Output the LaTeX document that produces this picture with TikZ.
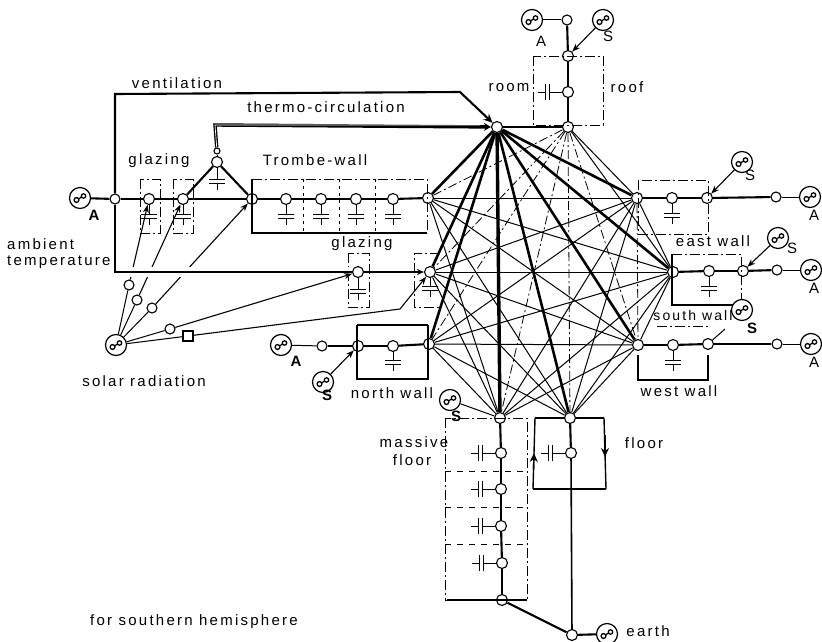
\documentclass[tikz,border=0pt]{standalone}
\usepackage{fontspec}
\setmainfont[LetterSpace=15]{Liberation Sans}
\usetikzlibrary{arrows.meta,calc}
\tikzset{
  x=1pt,y=-1pt,
  nd/.style={circle,draw,fill=white,line width=1.1pt,minimum size=11pt,inner sep=0pt},
  sm/.style={circle,draw,fill=white,line width=1.1pt,minimum size=10pt,inner sep=0pt},
  src/.style={circle,draw,fill=white,line width=1.2pt,minimum size=21pt,inner sep=0pt,
    path picture={\draw[line width=1.3pt]
      ([shift={(-3.5,2)}]path picture bounding box.center) circle[radius=2.4pt]
      ([shift={(-1.5,0.8)}]path picture bounding box.center) -- ([shift={(1.5,-0.8)}]path picture bounding box.center)
      ([shift={(3.5,-2)}]path picture bounding box.center) circle[radius=2.2pt];}},
  wire/.style={line width=2.1pt},
  thinw/.style={line width=1pt},
  arr/.style={line width=1.1pt,-{Stealth[length=8pt,width=6pt]}},
  heavy/.style={line width=2.6pt},
  mesh/.style={line width=1pt},
  dmesh/.style={line width=.8pt,dash pattern=on 9pt off 3pt on 2pt off 3pt},
  bx/.style={line width=.9pt,dash pattern=on 10pt off 3pt on 2pt off 3pt},
  bxs/.style={line width=1.4pt},
  lab/.style={inner sep=0pt,font=\fontsize{15}{17}\selectfont},
  labn/.style={inner sep=0pt,font=\fontsize{14}{16}\selectfont},
  blab/.style={inner sep=0pt,font=\fontsize{15}{17}\bfseries\selectfont},
}
\newcommand{\capdown}[2][15]{\draw[thinw] (#2) -- ++(0,#1) ++(-8,0) -- ++(16,0) ++(-16,4) -- ++(16,0) ++(-8,0) -- ++(0,7);}
\newcommand{\capleft}[1]{\draw[thinw] (#1) -- ++(-19,0) ++(0,-8) -- ++(0,16) ++(-4,0) -- ++(0,-16) ++(0,8) -- ++(-7,0);}
\begin{document}
\begin{tikzpicture}
\useasboundingbox (0,0) rectangle (822,642);
% hubs
\node[nd] (R) at (497,127) {};
\node[nd] (Rf) at (568,127) {};
\node[nd] (E) at (637,198) {};
\node[nd] (So) at (673,272) {};
\node[nd] (We) at (638,345) {};
\node[nd] (F) at (570,418) {};
\node[nd] (M) at (500,418) {};
\node[nd] (N) at (429,344) {};
\node[nd] (G) at (430,272) {};
\node[nd] (T) at (428,198) {};
% mesh
\foreach \a/\b in {T/E,T/So,T/We,T/F,T/M,G/E,G/So,G/We,G/F,G/M,N/E,N/So,N/We,N/F,N/M,E/So,E/F,E/M,So/We,So/F,So/M,We/F,We/M,Rf/E,Rf/So}
  \draw[mesh] (\a) -- (\b);
\foreach \a/\b in {Rf/T,Rf/G,Rf/N,Rf/We,Rf/F,Rf/M,E/We}
  \draw[dmesh] (\a) -- (\b);
\foreach \b in {E,So,We,F,T,G,N}
  \draw[heavy] (R) -- (\b);
\draw[line width=3.4pt] (R) -- (M);
\draw[wire] (R) -- (Rf);
% sources and nodes: left
\node[src] (sa) at (80,198) {};
\node[sm] (a1) at (115,199) {};
\node[nd] (g1) at (149,199) {};
\node[nd] (g2) at (183,199) {};
\node[nd] (t0) at (252,199) {};
\node[nd] (t1) at (286,199) {};
\node[nd] (t2) at (321,199) {};
\node[nd] (t3) at (356,199) {};
\node[nd] (t4) at (393,199) {};
\node[nd] (tp) at (217,162) {};
\node[sm,minimum size=6pt] (tq) at (217,151) {};
\node[nd] (gl) at (358,272) {};
\coordinate (vtop) at (115,94);
\coordinate (vr) at (460,92);
\coordinate (lb) at (115,272);
\coordinate (thc) at (215,125);
% boxes
\draw[bx] (140,179) rectangle (160,233);
\draw[bx] (173,179) rectangle (193,233);
\draw[bx] (252,179) -- (427,179) -- (427,233);
\draw[bxs] (252,179) -- (252,233) -- (427,233);
\foreach \x in {303,339,375} \draw[line width=.7pt,dash pattern=on 3pt off 4pt] (\x,179) -- (\x,233);
\draw[bx] (348,253) rectangle (369,307);
\draw[bx] (440,253) -- (414,253) -- (414,307) -- (440,307);
% solar
\node[src] (sol) at (116,345) {};
\node[sm] (c1) at (129,285) {};
\node[sm] (c2) at (137,300) {};
\node[sm] (c3) at (152,308) {};
\node[sm] (c4) at (170,329) {};
\node[sm,rectangle] (c5) at (188,336) {};
\coordinate (bend) at (400,309);
\draw[thinw] (sol) -- (c1);
\draw[thinw] (sol) -- (c2);
\draw[thinw] (sol) -- (c3);
\draw[thinw] (sol) -- (c4);
\draw[thinw] (sol) -- (c5);
\draw[arr] (c1) -- (g1);
\draw[arr] (c2) -- (g2);
\draw[arr] (c3) -- (t0);
% main wires
\draw[wire] (sa) -- (a1);
\draw[wire] (a1) -- (g1);
\draw[wire] (g1) -- (g2);
\draw[wire] (g2) -- (t0);
\draw[wire] (t0) -- (t1);
\draw[wire] (t1) -- (t2);
\draw[wire] (t2) -- (t3);
\draw[wire] (t3) -- (t4);
\draw[wire] (t4) -- (T);
\draw[wire] (g2) -- (tp);
\draw[wire] (t0) -- (tp);
\draw[thinw] (tp) -- (tq);
\draw[wire,-{Stealth[length=9pt,width=8pt]}] (a1) -- (vtop) -- (vr) -- (R);
\draw[line width=3.4pt,-{Stealth[length=7pt,width=8pt]}] (tq) -- (thc) -- (R);
\draw[white,line width=.7pt] (tq) -- (thc) -- (480,125);
\draw[wire,preaction={draw=white,line width=10pt}] (a1) -- (lb) -- (gl);
\draw[wire,-{Stealth[length=7pt,width=6pt]}] (gl) -- (G);
\draw[arr] (c4) -- (gl);
\draw[arr] (c5) -- (bend) -- (G);
\capdown[15]{g1}\capdown[15]{g2}\capdown[17]{tp}
\capdown{t1}\capdown{t2}\capdown{t3}\capdown{t4}
\capdown[17]{gl}\capdown[14]{G}
% north
\node[src] (sn) at (281,345) {};
\node[sm] (n0) at (322,346) {};
\node[nd] (n1) at (358,346) {};
\node[nd] (n2) at (393,346) {};
\node[src] (ssn) at (323,382) {};
\draw[bxs] (357,325) -- (428,325);
\draw[bxs] (357,325) -- (357,379) -- (428,379) -- (428,325);
\draw[thinw] (sn) -- (n0);
\draw[wire] (n0) -- (n1);
\draw[wire] (n1) -- (n2);
\draw[wire] (n2) -- (N);
\draw[arr] (ssn) -- (n1);
\capdown[14]{n2}
% roof
\node[src] (sra) at (532,20) {};
\node[sm] (r0) at (567,20) {};
\node[src] (srs) at (603,20) {};
\node[nd] (r1) at (568,56) {};
\node[nd] (r2) at (568,92) {};
\draw[bx] (533,56) rectangle (603,125);
\draw[thinw] (sra) -- (r0);
\draw[wire] (r0) -- (r1);
\draw[wire] (r1) -- (r2);
\draw[wire] (r2) -- (Rf);
\draw[arr] (srs) -- (r1);
\capleft{r2}
% east
\node[nd] (e1) at (672,198) {};
\node[nd] (e2) at (707,198) {};
\node[sm] (e3) at (776,197) {};
\node[src] (se) at (810,197) {};
\node[src] (sse) at (742,162) {};
\draw[bx] (638,180) rectangle (708,234);
\draw[wire] (E) -- (e1);
\draw[wire] (e1) -- (e2);
\draw[wire] (e2) -- (e3);
\draw[thinw] (e3) -- (se);
\draw[arr] (sse) -- (e2);
\capdown[15]{e1}
% south
\node[nd] (s1) at (709,271) {};
\node[nd] (s2) at (743,271) {};
\node[sm] (s3) at (777,270) {};
\node[src] (ss) at (811,270) {};
\node[src] (sss) at (778,238) {};
\draw[bx] (672,254) -- (741,254) -- (741,305);
\draw[bxs] (672,254) -- (672,305) -- (741,305);
\draw[wire] (So) -- (s1);
\draw[wire] (s1) -- (s2);
\draw[wire] (s2) -- (s3);
\draw[thinw] (s3) -- (ss);
\draw[arr] (sss) -- (s2);
\capdown[15]{s1}
% west
\node[nd] (w1) at (673,345) {};
\node[nd] (w2) at (708,344) {};
\node[sm] (w3) at (777,344) {};
\node[src] (sw) at (811,344) {};
\node[src] (ssw) at (742,310) {};
\coordinate (wa) at (725,329);
\draw[bx] (657,326) -- (708,326);
\draw[bxs] (638,355) -- (638,380) -- (708,380) -- (708,355);
\draw[wire] (We) -- (w1);
\draw[wire] (w1) -- (w2);
\draw[wire] (w2) -- (w3);
\draw[thinw] (w3) -- (sw);
\draw[thinw] (wa) -- (w2);
\capdown[15]{w1}
% massive floor
\node[nd] (m1) at (501,453) {};
\node[nd] (m2) at (501,489) {};
\node[nd] (m3) at (501,526) {};
\node[nd] (m4) at (502,563) {};
\node[nd] (m5) at (502,600) {};
\node[src] (sm) at (450,400) {};
\draw[bx] (445,418) rectangle (527,600);
\foreach \y in {471,507,544} \draw[line width=.8pt,dash pattern=on 6pt off 6pt] (445,\y) -- (527,\y);
\draw[bxs] (447,600) -- (527,600);
\draw[thinw] (sm) -- (M);
\draw[wire] (M) -- (m1);
\draw[wire] (m1) -- (m2);
\draw[wire] (m2) -- (m3);
\draw[wire] (m3) -- (m4);
\draw[wire] (m4) -- (m5);
\capleft{m1}\capleft{m2}\capleft{m3}\capleft{m4}
% floor
\node[nd] (f1) at (571,453) {};
\node[nd] (f2) at (572,635) {};
\node[src] (se2) at (607,634) {};
\coordinate (fbl) at (533,489);
\coordinate (ftl) at (535,418);
\coordinate (fbr) at (606,489);
\coordinate (ftr) at (604,418);
\draw[wire] (F) -- (f1);
\draw[thinw,line width=1.6pt] (f1) -- (f2);
\draw[wire] (f2) -- (se2);
\draw[wire] (m5) -- (f2);
\draw[wire] (fbl) -- (fbr);
\draw[bxs] (F) -- (ftr);
\draw[bxs] (F) -- (ftl);
\draw[bxs] (fbl) -- (ftl);
\draw[bxs] (ftr) -- (fbr);
\draw[bxs,-{Stealth[length=9pt,width=8pt]}] (533.5,470) -- (534,453);
\draw[bxs,-{Stealth[length=9pt,width=8pt]}] (605,435) -- (605,457);
\capleft{f1}
% labels
\node[lab] (l1) at (177,83) {ventilation};
\node[lab] (l2) at (326,107) {thermo-circulation};
\node[lab] (l3) at (159,161) {glazing};
\node[lab] (l4) at (315,160) {Trombe-wall};
\node[lab] (l5) at (362,244) {glazing};
\node[lab,anchor=west] (l6) at (7,244) {ambient};
\node[lab,anchor=west] (l7) at (7,262) {temperature};
\node[lab] (l8) at (144,381) {solar radiation};
\node[lab] (l9) at (392,393) {north wall};
\node[lab] (l10) at (509,88) {room};
\node[lab] (l11) at (627,87) {roof};
\node[lab] (l12) at (713,241) {east wall};
\node[labn] (l13) at (693,315) {south wall};
\node[lab] (l14) at (679,391) {west wall};
\node[lab] (l15) at (414,442) {massive};
\node[lab] (l16) at (412,460) {floor};
\node[lab] (l17) at (644,443) {floor};
\node[lab] (l18) at (648,631) {earth};
\node[lab] (l19) at (194,622) {for southern hemisphere};
\node[blab] (a1l) at (94,215) {A};
\node[blab] (a2l) at (296,361) {A};
\node[lab] (a3l) at (541,41) {A};
\node[lab] (a4l) at (814,215) {A};
\node[lab] (a5l) at (814,288) {A};
\node[lab] (a6l) at (814,362) {A};
\node[lab] (s1l) at (608,36) {S};
\node[lab] (s2l) at (750,175) {S};
\node[lab] (s3l) at (792,248) {S};
\node[blab] (s4l) at (752,328) {S};
\node[blab] (s5l) at (456,416) {S};
\node[blab] (s6l) at (327,395) {S};
\end{tikzpicture}
\end{document}
